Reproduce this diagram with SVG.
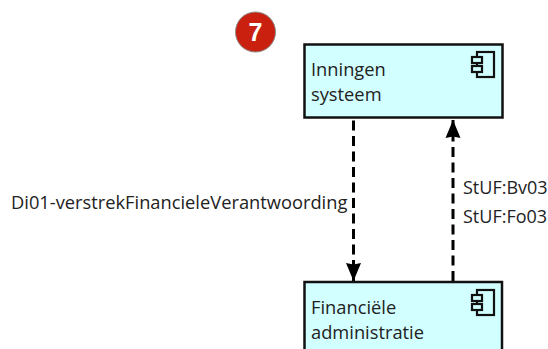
<svg xmlns="http://www.w3.org/2000/svg" width="548" height="349" viewBox="0 0 548 349">
<style>
.node{fill:#d2ffff;stroke:#111;stroke-width:2.5}
.ico{fill:#d2ffff;stroke:#111;stroke-width:2.2}
.conn{fill:none;stroke:#000;stroke-width:3;stroke-dasharray:10 5.500}
text{font-family:"Open Sans","Noto Sans","DejaVu Sans",sans-serif;fill:#222}
.n{font-size:18.300px}
.l{font-size:18.300px}
.s{font-size:18px}
</style>
<defs>
<marker id="arr" markerUnits="userSpaceOnUse" markerWidth="20" markerHeight="18" refX="18" refY="8" orient="auto"><path d="M0 0.500L18 8L0 15.500L1.500 8Z" fill="#000"/></marker>
<g id="comp"><rect class="ico" x="5" y="0" width="17" height="25"/><rect class="ico" x="0" y="5" width="10" height="6"/><rect class="ico" x="0" y="14" width="10" height="6"/></g>
</defs>
<g id="badge"><circle cx="255.500" cy="32" r="20" fill="#c9200f" stroke="#8a8a8a" stroke-width="1"/><text x="255.500" y="41" text-anchor="middle" style="font-size:25px;font-weight:700;fill:#fff;font-family:'Liberation Sans',sans-serif">7</text></g>
<g id="connectors">
<path class="conn" d="M353.500 120.500V281" marker-end="url(#arr)"/>
<path class="conn" d="M453 281V120" marker-end="url(#arr)"/>
</g>
<g id="inningen"><rect class="node" x="304.500" y="44.500" width="198" height="73"/><use href="#comp" x="472" y="52"/><text class="n" x="311" y="76">Inningen</text><text class="n" x="311" y="101">systeem</text></g>
<g id="financiele"><rect class="node" x="304.500" y="282" width="197.500" height="73"/><use href="#comp" x="472" y="290"/><text class="n" x="311" y="314">Financiële</text><text class="n" x="311" y="339">administratie</text></g>
<g id="labels"><text class="l" x="11" y="209">Di01-verstrekFinancieleVerantwoording</text><text class="s" x="463" y="194">StUF:Bv03</text><text class="s" x="463" y="223">StUF:Fo03</text></g>
</svg>
